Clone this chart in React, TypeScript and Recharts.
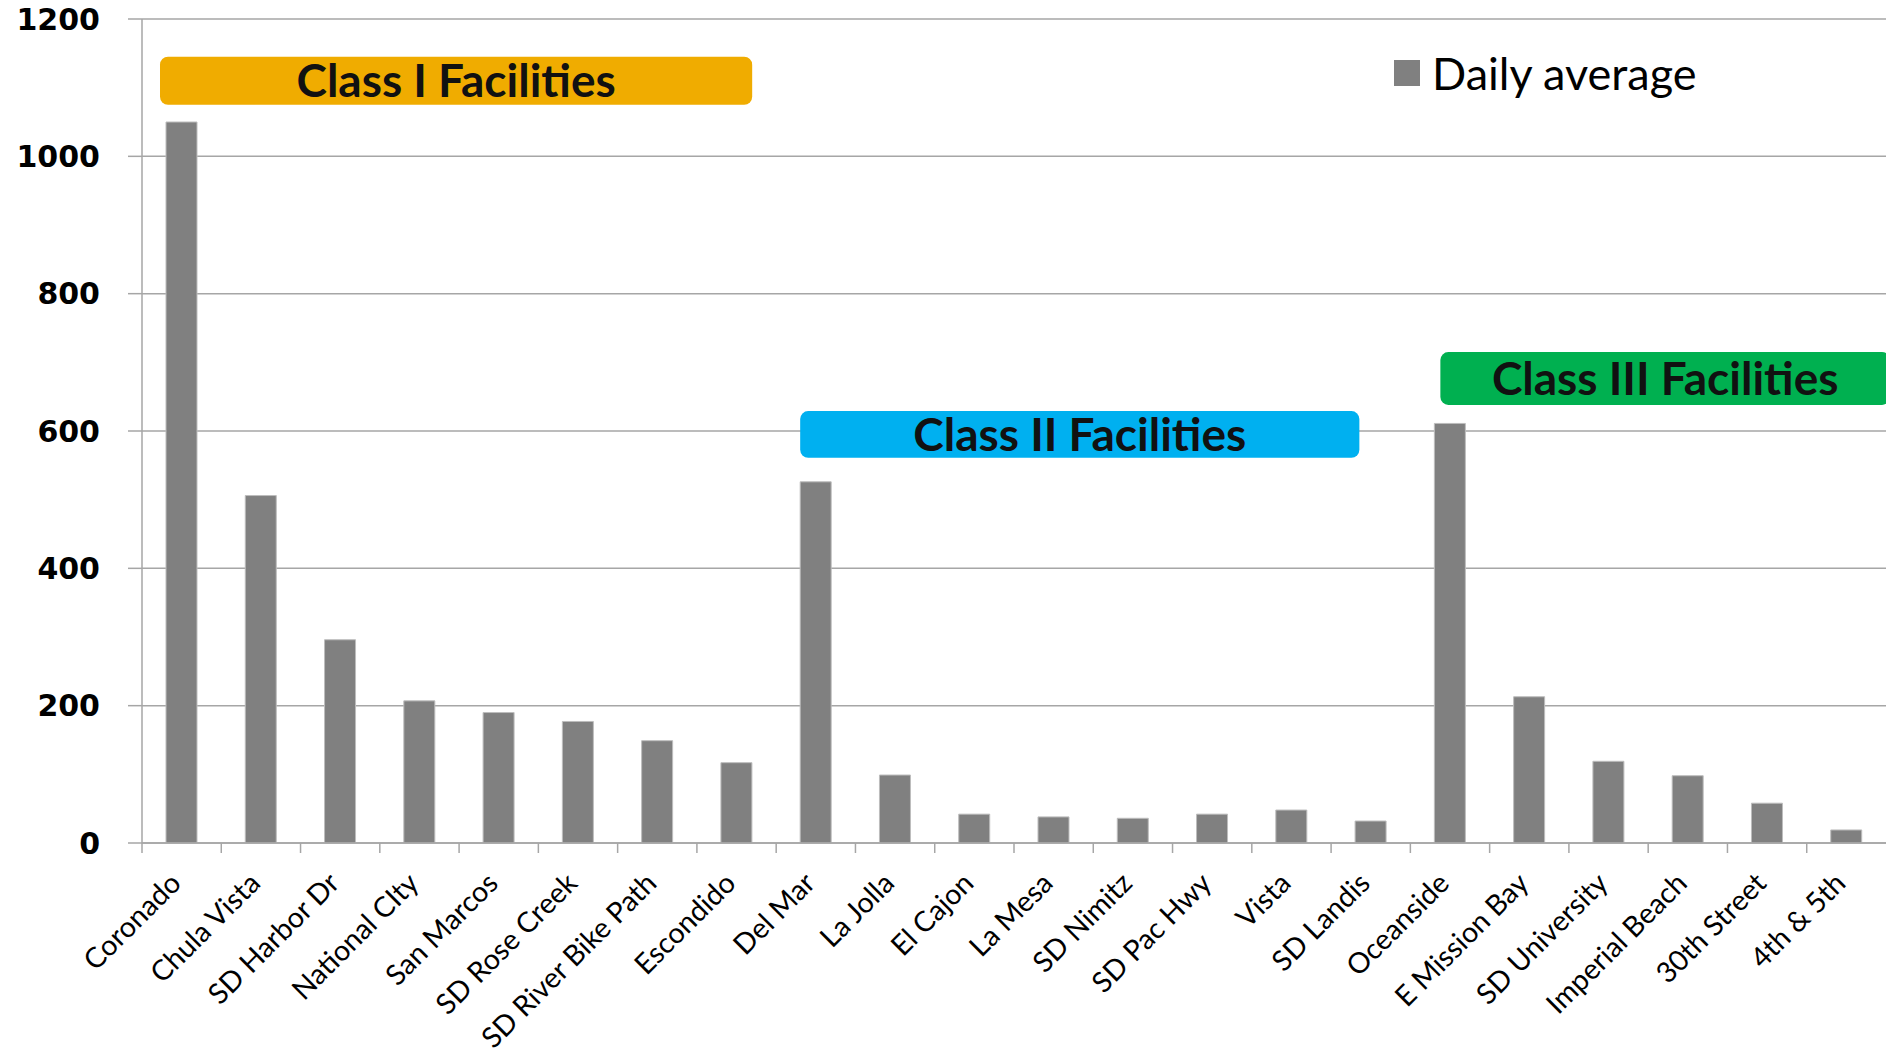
import React from "react";
import { BarChart, Bar, XAxis, YAxis, CartesianGrid, Legend, ReferenceArea } from "recharts";

const categories = [
  "Coronado", "Chula Vista", "SD Harbor Dr", "National CIty", "San Marcos", "SD Rose Creek",
  "SD River Bike Path", "Escondido", "Del Mar", "La Jolla", "El Cajon", "La Mesa", "SD Nimitz",
  "SD Pac Hwy", "Vista", "SD Landis", "Oceanside", "E Mission Bay", "SD University",
  "Imperial Beach", "30th Street", "4th & 5th",
];
const dailyAverage = [
  1050, 506, 296, 207, 190, 177, 149, 117, 526, 99, 42, 38, 36, 42, 48, 32, 611, 213, 119, 98, 58, 19,
];
const yTicks = [0, 200, 400, 600, 800, 1000, 1200];

const classLabels = ["Class I Facilities", "Class II Facilities", "Class III Facilities"];
const classStart = ["Coronado", "Del Mar", "Oceanside"];
const classEnd = ["Escondido", "SD Landis", "4th & 5th"];
const classLow = [1075, 561, 638];
const classHigh = [1145, 629, 715];
const classColors = ["#F0AC00", "#00B0F0", "#00B050"];
const classInsetL = [18, 24, 30];
const classInsetR = [24, 51, -4];

const data = categories.map((name, i) => ({ name, value: dailyAverage[i] }));

const GRID = "#a6a6a6";
const LABEL_FONT = "Lato, 'Open Sans', sans-serif";

const XTick = (props: any) => {
  const { x, y, payload } = props;
  const half = payload && payload.offset ? payload.offset : 1744 / 22 / 2;
  const ax = x + 1;
  const ay = y + 42;
  return (
    <g>
      <line x1={x - half} y1={y} x2={x - half} y2={y + 10} stroke={GRID} strokeWidth={1.5} />
      <text
        x={ax}
        y={ay}
        textAnchor="end"
        transform={`rotate(-45, ${ax}, ${ay})`}
        fontFamily={LABEL_FONT}
        fontSize={28.5}
        fill="#000"
      >
        {payload.value}
      </text>
    </g>
  );
};

const makeShape = (i: number) => (p: any) => {
  const x = p.x + classInsetL[i];
  const w = p.width - classInsetL[i] - classInsetR[i];
  return (
    <g>
      <rect x={x} y={p.y} width={w} height={p.height} rx={8} ry={8} fill={classColors[i]} />
      <text
        x={x + w / 2}
        y={p.y + p.height / 2}
        dy="0.36em"
        textAnchor="middle"
        fontFamily={LABEL_FONT}
        fontWeight={700}
        fontSize={46}
        fill="#111"
      >
        {classLabels[i]}
      </text>
    </g>
  );
};

const LegendContent = () => (
  <div style={{ display: "flex", alignItems: "center", fontFamily: LABEL_FONT, whiteSpace: "nowrap" }}>
    <span style={{ display: "inline-block", width: 26, height: 26, background: "#808080", marginRight: 12 }} />
    <span style={{ fontSize: 45, color: "#000", lineHeight: "52px" }}>Daily average</span>
  </div>
);

export default function App() {
  return (
    <div style={{ position: "absolute", left: 0, top: 0, width: 1886, height: 1057, background: "#fff" }}>
      <BarChart width={1886} height={1057} data={data} margin={{ top: 19, right: 0, left: 0, bottom: 0 }} barSize={31}>
        <CartesianGrid vertical={false} stroke={GRID} strokeWidth={1.5} />
        <XAxis
          dataKey="name"
          interval={0}
          height={214}
          tickLine={false}
          tickSize={0}
          tickMargin={0}
          axisLine={{ stroke: GRID, strokeWidth: 1.5 }}
          tick={<XTick />}
        />
        <YAxis
          width={142}
          domain={[0, 1200]}
          ticks={yTicks}
          interval={0}
          tickSize={14}
          tickMargin={28}
          tickLine={{ stroke: GRID, strokeWidth: 1.5 }}
          axisLine={{ stroke: GRID, strokeWidth: 1.5 }}
          tick={{ fill: "#000", fontFamily: "'DejaVu Sans', sans-serif", fontWeight: 700, fontSize: 30 }}
        />
        <Legend
          layout="vertical"
          align="center"
          verticalAlign="middle"
          wrapperStyle={{ position: "absolute", left: 1394, top: 47, width: "auto", height: "auto" }}
          content={<LegendContent />}
        />
        <Bar dataKey="value" name="Daily average" fill="#808080" stroke="#bdbdbd" strokeWidth={1} isAnimationActive={false} />
        {classLabels.map((label, i) => (
          <ReferenceArea
            key={label}
            x1={classStart[i]}
            x2={classEnd[i]}
            y1={classLow[i]}
            y2={classHigh[i]}
            ifOverflow="visible"
            shape={makeShape(i)}
          />
        ))}
      </BarChart>
    </div>
  );
}
